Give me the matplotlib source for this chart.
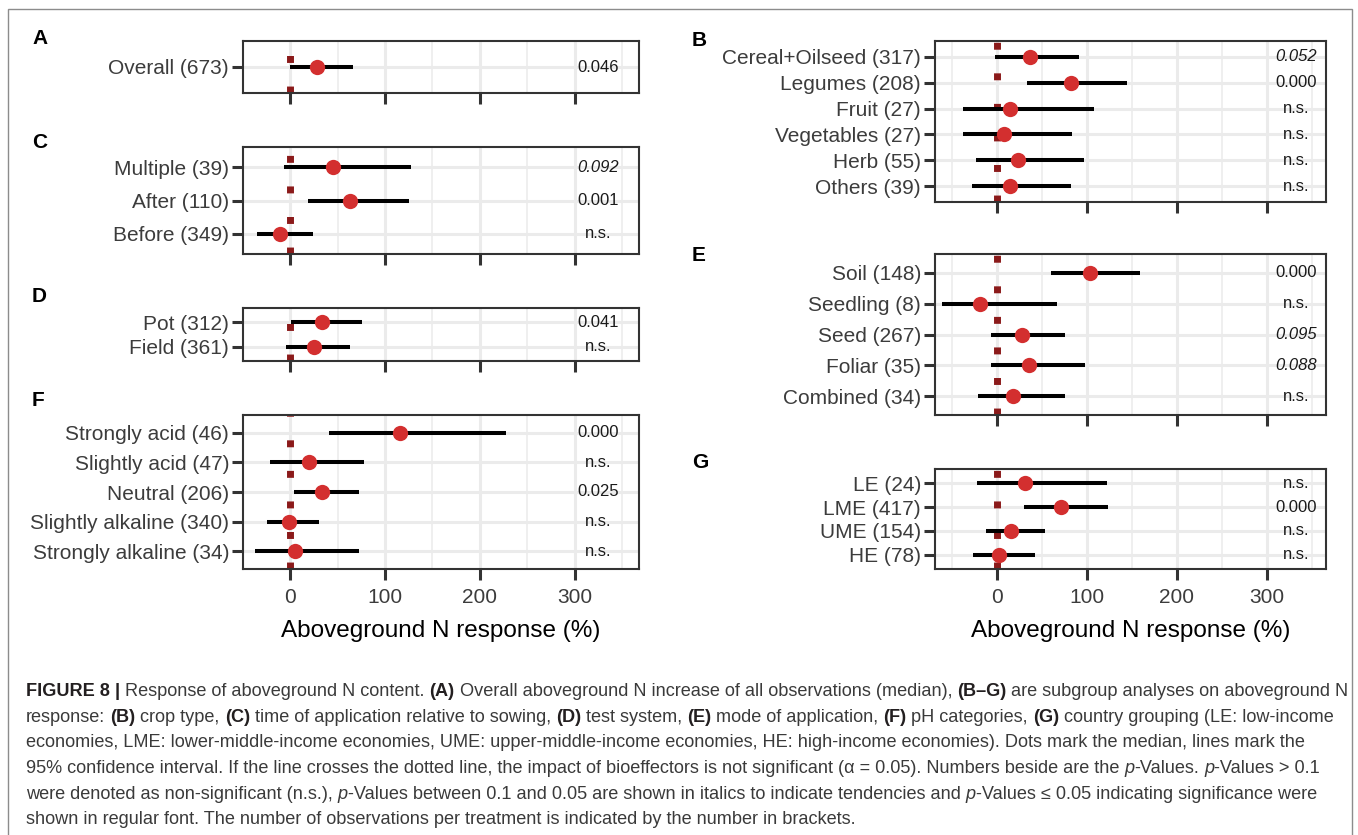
import matplotlib.pyplot as plt
import matplotlib.patches as mpatches

plt.rcParams['font.family'] = ['Liberation Sans', 'DejaVu Sans']

W, H = 1358, 835

# ---- data (median, 95% CI, p-value) ----
a_labels = ['Overall (673)']
a_med = [28]
a_lo = [0]
a_hi = [66]
a_p = ['0.046']

b_labels = ['Cereal+Oilseed (317)', 'Legumes (208)', 'Fruit (27)',
            'Vegetables (27)', 'Herb (55)', 'Others (39)']
b_med = [37, 82, 15, 8, 24, 15]
b_lo = [-2, 34, -37, -38, -23, -27]
b_hi = [91, 145, 108, 84, 97, 83]
b_p = ['0.052', '0.000', 'n.s.', 'n.s.', 'n.s.', 'n.s.']

c_labels = ['Multiple (39)', 'After (110)', 'Before (349)']
c_med = [45, 63, -11]
c_lo = [-7, 19, -35]
c_hi = [127, 125, 24]
c_p = ['0.092', '0.001', 'n.s.']

d_labels = ['Pot (312)', 'Field (361)']
d_med = [33, 25]
d_lo = [1, -5]
d_hi = [76, 63]
d_p = ['0.041', 'n.s.']

e_labels = ['Soil (148)', 'Seedling (8)', 'Seed (267)', 'Foliar (35)', 'Combined (34)']
e_med = [104, -19, 28, 36, 18]
e_lo = [60, -61, -6, -6, -21]
e_hi = [159, 67, 76, 98, 76]
e_p = ['0.000', 'n.s.', '0.095', '0.088', 'n.s.']

f_labels = ['Strongly acid (46)', 'Slightly acid (47)', 'Neutral (206)',
            'Slightly alkaline (340)', 'Strongly alkaline (34)']
f_med = [116, 20, 33, -1, 4.5]
f_lo = [41, -21, 4, -25, -37]
f_hi = [228, 78, 72, 30, 72]
f_p = ['0.000', 'n.s.', '0.025', 'n.s.', 'n.s.']

g_labels = ['LE (24)', 'LME (417)', 'UME (154)', 'HE (78)']
g_med = [31, 71, 16, 3]
g_lo = [-22, 30, -12, -26]
g_hi = [122, 124, 54, 43]
g_p = ['n.s.', '0.000', 'n.s.', 'n.s.']

xlabel = 'Aboveground N response (%)'

fig = plt.figure(figsize=(W / 100, H / 100), dpi=100)
renderer = fig.canvas.get_renderer()


def panel(x0, y0, x1, y1, letter, lx, ly, labels, med, lo, hi, pv, xlim, ptx, show_x):
    ax = fig.add_axes([x0 / W, 1 - y1 / H, (x1 - x0) / W, (y1 - y0) / H])
    n = len(labels)
    ys = list(range(n - 1, -1, -1))
    ax.set_xlim(xlim)
    ax.set_ylim(-0.6, n - 0.4)
    ax.set_xticks([0, 100, 200, 300])
    ax.set_xticks([-50, 50, 150, 250, 350], minor=True)
    ax.set_yticks(ys)
    ax.set_yticklabels(labels)
    ax.set_axisbelow(True)
    ax.grid(which='major', color='#EBEBEB', lw=2.2)
    ax.grid(which='minor', axis='x', color='#EBEBEB', lw=1.1)
    ax.tick_params(which='minor', length=0)
    ax.tick_params(which='major', length=8, width=2.2, color='#333333',
                   labelsize=15, labelcolor='#3C3C3C')
    ax.tick_params(axis='y', pad=2)
    ax.tick_params(axis='x', pad=6, labelbottom=show_x)
    for s in ax.spines.values():
        s.set_color('#333333')
        s.set_linewidth(1.5)
    # dotted zero line
    ax.plot([0, 0], [0, 1], transform=ax.get_xaxis_transform(), color='#8B1A1A',
            lw=5, ls=(0, (1, 3.4)), dash_capstyle='butt', zorder=2)
    ax.hlines(ys, lo, hi, color='black', lw=2.9, zorder=3, capstyle='butt')
    ax.plot(med, ys, 'o', ms=11, color='#D32F2F', mec='none', zorder=4)
    for y, p in zip(ys, pv):
        ital = p != 'n.s.' and float(p) > 0.05
        ax.text(ptx, y, p, ha='center', va='center', fontsize=12,
                style='italic' if ital else 'normal', color='#1A1A1A')
    if show_x:
        ax.set_xlabel(xlabel, fontsize=17.5, labelpad=9, color='black')
    fig.text(lx / W, 1 - ly / H, letter, fontsize=15, weight='bold', va='baseline')
    return ax


left = (-43, 368)
right = (-68.6, 365.7)
panel(243, 41, 639, 93, 'A', 32, 44, a_labels, a_med, a_lo, a_hi, a_p, left, 325, False)
panel(243, 147, 639, 254, 'C', 32, 147.5, c_labels, c_med, c_lo, c_hi, c_p, left, 325, False)
panel(243, 308, 639, 361, 'D', 32, 302.5, d_labels, d_med, d_lo, d_hi, d_p, left, 325, False)
panel(243, 415, 639, 569, 'F', 32, 406, f_labels, f_med, f_lo, f_hi, f_p, left, 325, True)
panel(935, 41, 1326, 202, 'B', 692, 46, b_labels, b_med, b_lo, b_hi, b_p, right, 333, False)
panel(935, 254, 1326, 415, 'E', 692, 261, e_labels, e_med, e_lo, e_hi, e_p, right, 333, False)
panel(935, 469, 1326, 569, 'G', 692, 467.5, g_labels, g_med, g_lo, g_hi, g_p, right, 333, True)

# outer frame
fig.patches.append(mpatches.Rectangle((8 / W, -0.05), (1352 - 8) / W, 1 - 9 / H + 0.05,
                                      transform=fig.transFigure, fill=False,
                                      edgecolor='#8C8C8C', lw=1))

# ---- caption ----
B, I, N = 'bold', 'italic', 'normal'
cap_lines = [
    [('FIGURE 8', B), (' | ', 'bar'), ('Response of aboveground N content. ', N), ('(A)', B),
     (' Overall aboveground N increase of all observations (median), ', N), ('(B–G)', B),
     (' are subgroup analyses on aboveground N', N)],
    [('response: ', N), ('(B)', B), (' crop type, ', N), ('(C)', B),
     (' time of application relative to sowing, ', N), ('(D)', B), (' test system, ', N),
     ('(E)', B), (' mode of application, ', N), ('(F)', B), (' pH categories, ', N),
     ('(G)', B), (' country grouping (LE: low-income', N)],
    [('economies, LME: lower-middle-income economies, UME: upper-middle-income economies, '
      'HE: high-income economies). Dots mark the median, lines mark the', N)],
    [('95% confidence interval. If the line crosses the dotted line, the impact of bioeffectors '
      'is not significant (α = 0.05). Numbers beside are the ', N), ('p', I), ('-Values. ', N),
     ('p', I), ('-Values > 0.1', N)],
    [('were denoted as non-significant (n.s.), ', N), ('p', I),
     ('-Values between 0.1 and 0.05 are shown in italics to indicate tendencies and ', N),
     ('p', I), ('-Values ≤ 0.05 indicating significance were', N)],
    [('shown in regular font. The number of observations per treatment is indicated by the '
      'number in brackets.', N)],
]


def txt_width(s, size, weight='normal', style='normal'):
    t = fig.text(0, 0, s, fontsize=size, weight=weight, style=style)
    w = t.get_window_extent(renderer).width
    t.remove()
    return w


def seg_widths(line, size):
    sp = txt_width('x x', size) - txt_width('xx', size)
    out = []
    for s, kind in line:
        core = s.strip()
        wt = 'bold' if kind in (B, 'bar') else 'normal'
        st = 'italic' if kind == I else 'normal'
        lead = len(s) - len(s.lstrip(' '))
        trail = len(s) - len(s.rstrip(' '))
        out.append((lead * sp, core, wt, st, txt_width(core, size, wt, st), trail * sp, kind))
    return out


base = 11
w0 = sum(l + w + t for l, c, wt, st, w, t, k in seg_widths(cap_lines[0], base))
cap_size = base * (1348 - 26) / w0

for i, line in enumerate(cap_lines):
    x = 26
    yb = 696 + i * 25.7
    for lead, core, wt, st, w, trail, kind in seg_widths(line, cap_size):
        x += lead
        col = '#231F20' if kind in (B, 'bar') else '#3A3A3A'
        fig.text(x / W, 1 - yb / H, core, fontsize=cap_size, weight=wt, style=st,
                 color=col, va='baseline', ha='left')
        x += w + trail

fig.savefig('out.png', dpi=100)
